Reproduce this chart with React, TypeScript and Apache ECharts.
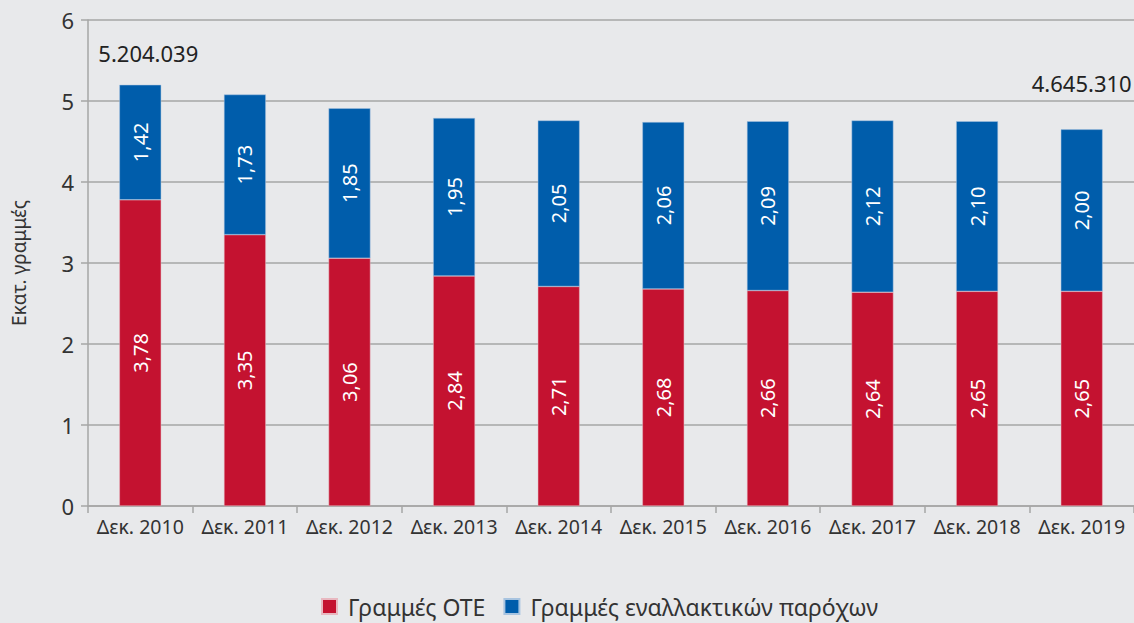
import React, { useEffect, useRef } from "react";
import * as echarts from "echarts";

const categories = ["Δεκ. 2010", "Δεκ. 2011", "Δεκ. 2012", "Δεκ. 2013", "Δεκ. 2014", "Δεκ. 2015", "Δεκ. 2016", "Δεκ. 2017", "Δεκ. 2018", "Δεκ. 2019"];
const oteLines = [3.78, 3.35, 3.06, 2.84, 2.71, 2.68, 2.66, 2.64, 2.65, 2.65];
const altLines = [1.42, 1.73, 1.85, 1.95, 2.05, 2.06, 2.09, 2.12, 2.10, 2.00];
const totalLabels = ["5.204.039", "", "", "", "", "", "", "", "", "4.645.310"];

const FONT = "'Noto Sans', sans-serif";

export default function App() {
  const ref = useRef<HTMLDivElement>(null);
  useEffect(() => {
    document.body.style.margin = "0";
    const chart = echarts.init(ref.current!, null, { renderer: "svg" });
    const fmt = (p: any) => Number(p.value).toFixed(2).replace(".", ",");
    const innerLabel = {
      show: true,
      position: "inside" as const,
      rotate: 90,
      color: "#ffffff",
      fontSize: 20,
      fontFamily: FONT,
      formatter: fmt,
    };
    chart.setOption({
      animation: false,
      backgroundColor: "#e8e9eb",
      textStyle: { fontFamily: FONT },
      grid: { left: 88, right: 0, top: 20, bottom: 117 },
      xAxis: {
        type: "category",
        data: categories,
        axisLine: { lineStyle: { color: "#a6a6a6", width: 1.5 } },
        axisTick: { show: true, length: 7, lineStyle: { color: "#a6a6a6", width: 1.5 } },
        axisLabel: { color: "#333333", fontSize: 19.5, margin: 10, interval: 0, fontFamily: FONT },
      },
      yAxis: {
        type: "value",
        min: 0,
        max: 6,
        interval: 1,
        name: "Εκατ. γραμμές",
        nameLocation: "middle",
        nameGap: 60,
        nameTextStyle: { color: "#333333", fontSize: 19, fontFamily: FONT },
        axisLine: { show: true, lineStyle: { color: "#a6a6a6", width: 1.5 } },
        axisTick: { show: true, length: 7, lineStyle: { color: "#a6a6a6", width: 1.5 } },
        axisLabel: { color: "#333333", fontSize: 22, margin: 14, fontFamily: FONT },
        splitLine: { lineStyle: { color: "#a6a6a6", width: 1.5 } },
      },
      legend: {
        bottom: 0,
        left: 316,
        itemWidth: 15,
        itemHeight: 15,
        itemGap: 18,
        icon: "rect",
        textStyle: { color: "#333333", fontSize: 23, fontFamily: FONT, padding: [0, 0, 0, 6] },
        data: ["Γραμμές ΟΤΕ", "Γραμμές εναλλακτικών παρόχων"],
      },
      series: [
        {
          name: "Γραμμές ΟΤΕ",
          type: "bar",
          stack: "total",
          data: oteLines,
          barWidth: "40%",
          itemStyle: { color: "#c41230", borderColor: "#e8b8c0", borderWidth: 0.5 },
          label: innerLabel,
        },
        {
          name: "Γραμμές εναλλακτικών παρόχων",
          type: "bar",
          stack: "total",
          data: altLines,
          barWidth: "40%",
          itemStyle: { color: "#005dab", borderColor: "#a8c4e0", borderWidth: 0.5 },
          label: innerLabel,
        },
        {
          name: "total",
          type: "bar",
          stack: "total",
          barWidth: "40%",
          data: totalLabels.map((t, i) => ({
            value: 0,
            label: {
              show: t !== "",
              position: "top",
              formatter: t,
              color: "#222222",
              fontSize: 22,
              fontFamily: FONT,
              offset: i === 0 ? [8, -16] : [0, -30],
            },
          })),
          itemStyle: { color: "transparent" },
          tooltip: { show: false },
        },
      ],
    });
    return () => chart.dispose();
  }, []);
  return <div ref={ref} style={{ width: 1134, height: 623, position: "absolute", left: 0, top: 0 }} />;
}
